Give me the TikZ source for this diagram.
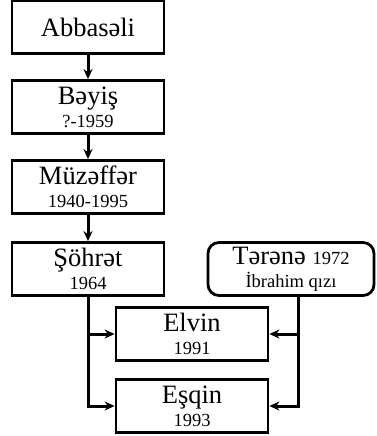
\documentclass[tikz,border=0pt]{standalone}
\usepackage{fontspec}
\setmainfont{Liberation Serif}
\usetikzlibrary{positioning,arrows.meta}

\newcommand{\namefont}{\fontsize{26.5}{23}\selectfont}
\newcommand{\yearfont}{\fontsize{18.5}{23}\selectfont}

\begin{document}
\begin{tikzpicture}[x=1pt,y=1pt,node distance=80pt,on grid,
    person/.style={draw,line width=2.8pt,minimum width=152pt,minimum height=53pt,
      inner sep=0pt,align=center,font=\namefont},
    wife/.style={person,rounded corners=11pt,minimum width=166pt},
    link/.style={line width=3pt,-{Stealth[length=10pt,width=9pt]}}]
   \useasboundingbox (0,0) rectangle (376,-436);

   \node[person] (abbas) at (88,-27) {Abbasəli};
   \node[person] (beyis) [below=of abbas] {Bəyiş\\{\yearfont ?-1959}};
   \node[person] (muzaffar) [below=of beyis] {Müzəffər\\{\yearfont 1940-1995}};
   \node[person] (sohrat) [below=82pt of muzaffar] {Şöhrət\\{\yearfont 1964}};
   \node[wife] (terana) [right=203pt of sohrat] {Tərənə {\yearfont 1972}\\{\yearfont İbrahim qızı}};
   \node[person] (elvin) [below right=65pt and 104pt of sohrat] {Elvin\\{\yearfont 1991}};
   \node[person] (esqin) [below=72pt of elvin] {Eşqin\\{\yearfont 1993}};

   \draw[link] (abbas) -- (beyis);
   \draw[link] (beyis) -- (muzaffar);
   \draw[link] (muzaffar) -- (sohrat);
   % children
   \draw[link] (sohrat.south) |- (elvin.west);
   \draw[link] (sohrat.south) |- (esqin.west);
   \draw[link] ([xshift=7pt]terana.south) |- (elvin.east);
   \draw[link] ([xshift=7pt]terana.south) |- (esqin.east);
\end{tikzpicture}
\end{document}
